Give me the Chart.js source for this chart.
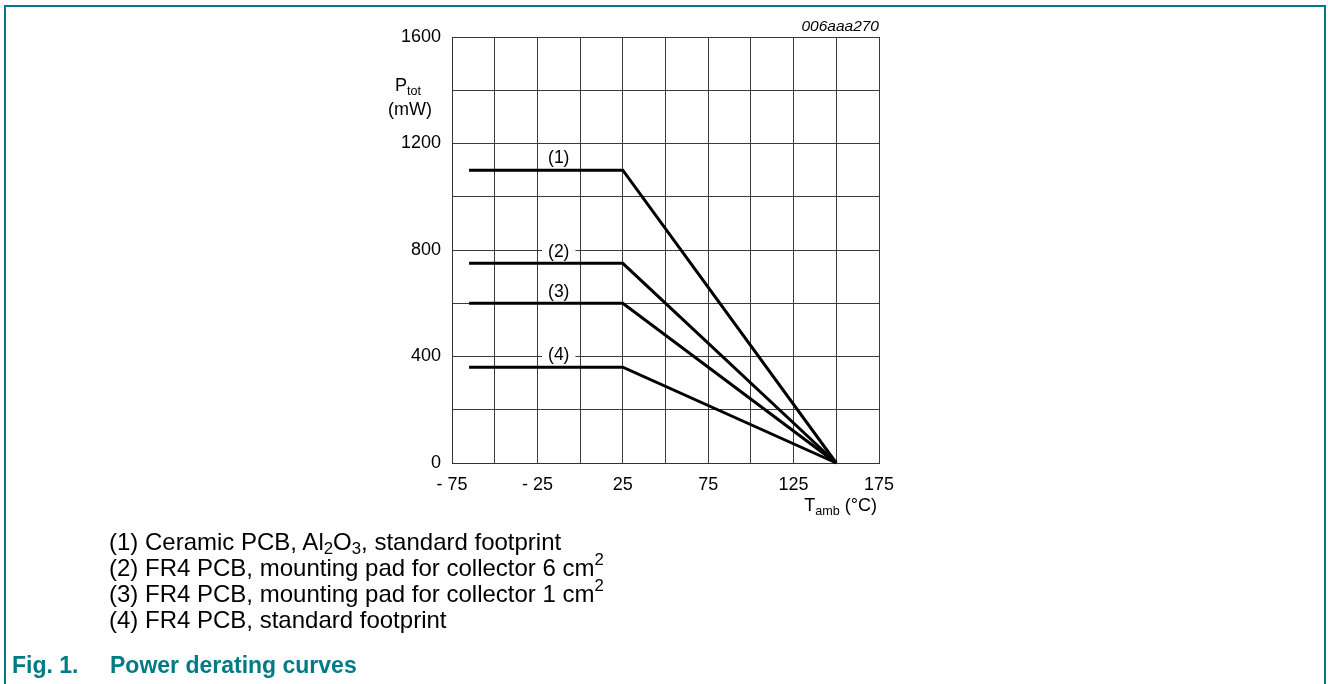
<!DOCTYPE html>
<html>
<head>
<meta charset="utf-8">
<script src="https://cdn.jsdelivr.net/npm/chart.js@4.4.1/dist/chart.umd.min.js"></script>
<style>
    html, body { margin: 0; padding: 0; background: #fff; }
    body { width: 1328px; height: 684px; position: relative; overflow: hidden; font-family: "Liberation Sans", Arial, sans-serif; color: #000; }
    #frame { position: absolute; left: 4px; top: 5px; width: 1318px; height: 700px; border: 2px solid #007a87; border-bottom: none; }
    #chart { position: absolute; left: 0; top: 0; }
    .txt { position: absolute; white-space: nowrap; line-height: 1; }
    .txt sub { font-size: 70%; vertical-align: -0.3em; line-height: 0; }
    #code { right: 449px; top: 18px; font-size: 15.5px; font-style: italic; }
    #ptot { left: 395px; top: 76px; font-size: 18px; }
    #mw { left: 388px; top: 100px; font-size: 18px; }
    #tamb { right: 451px; top: 496px; font-size: 18px; }
    #notes { position: absolute; left: 109px; top: 529px; font-size: 24px; line-height: 26px; white-space: nowrap; }
    #notes sub { font-size: 70%; vertical-align: -0.25em; line-height: 0; }
    #notes sup { font-size: 70%; vertical-align: 0.65em; line-height: 0; }
    #caption { position: absolute; left: 12px; top: 654px; font-size: 23px; line-height: 23px; font-weight: bold; color: #007a87; white-space: nowrap; }
    #caption span { position: absolute; left: 98px; top: 0; }
</style>
</head>
<body>
<div id="frame"></div>
<canvas id="chart" width="1328" height="684"></canvas>
<div class="txt" id="code">006aaa270</div>
<div class="txt" id="ptot">P<sub>tot</sub></div>
<div class="txt" id="mw">(mW)</div>
<div class="txt" id="tamb">T<sub>amb</sub> (°C)</div>
<div id="notes">
    (1) Ceramic PCB, Al<sub>2</sub>O<sub>3</sub>, standard footprint<br>
    (2) FR4 PCB, mounting pad for collector 6 cm<sup>2</sup><br>
    (3) FR4 PCB, mounting pad for collector 1 cm<sup>2</sup><br>
    (4) FR4 PCB, standard footprint
</div>
<div id="caption">Fig. 1.<span>Power derating curves</span></div>
<script>
// ambient temperature (°C) at the start of each curve, the knee and zero power
const tempPoints = [-65, 25, 150];

// Ptot (mW) for each curve at those temperatures
const curve1 = [1100, 1100, 0];
const curve2 = [750, 750, 0];
const curve3 = [600, 600, 0];
const curve4 = [360, 360, 0];

const curveNames = ['(1)', '(2)', '(3)', '(4)'];
const curveLabelTemp = -12.5;

const xTicks = [-75, -25, 25, 75, 125, 175];
const yTicks = [0, 400, 800, 1200, 1600];

const tickFont = { family: '"Liberation Sans", Arial, sans-serif', size: 18 };

function toPoints(values) {
    return values.map((v, i) => ({ x: tempPoints[i], y: v }));
}

function fmtTemp(v) {
    return v < 0 ? '- ' + Math.abs(v) : String(v);
}

const curves = [curve1, curve2, curve3, curve4];

// curve names sit just above each plateau, on a white patch over the grid
const curveLabelPlugin = {
    id: 'curveLabels',
    afterDatasetsDraw(chart) {
        const ctx = chart.ctx;
        const xs = chart.scales.x;
        const ys = chart.scales.y;
        ctx.save();
        ctx.font = '17.5px "Liberation Sans", Arial, sans-serif';
        ctx.textAlign = 'center';
        ctx.textBaseline = 'middle';
        curves.forEach((c, i) => {
            const px = xs.getPixelForValue(curveLabelTemp);
            const py = ys.getPixelForValue(c[0]) - 13;
            const w = ctx.measureText(curveNames[i]).width;
            ctx.fillStyle = '#fff';
            ctx.fillRect(px - w / 2 - 6, py - 8, w + 12, 16);
            ctx.fillStyle = '#000';
            ctx.fillText(curveNames[i], px, py + 1.5);
        });
        ctx.restore();
    }
};

new Chart(document.getElementById('chart'), {
    type: 'scatter',
    data: {
        datasets: curves.map((c, i) => ({
            label: curveNames[i],
            data: toPoints(c),
            showLine: true,
            borderColor: '#000',
            borderWidth: 3,
            pointRadius: 0,
            fill: false,
            clip: false
        }))
    },
    options: {
        responsive: false,
        animation: false,
        events: [],
        layout: { padding: { left: 0, right: 449, top: 37, bottom: 0 } },
        plugins: {
            legend: { display: false },
            tooltip: { enabled: false }
        },
        scales: {
            x: {
                type: 'linear',
                min: -75,
                max: 175,
                afterFit: (s) => { s.height = 221; },
                grid: { color: '#3a3a3a', lineWidth: 1, drawTicks: false },
                border: { color: '#333', width: 1 },
                ticks: {
                    stepSize: 25,
                    padding: 11,
                    color: '#000',
                    font: tickFont,
                    maxRotation: 0,
                    autoSkip: false,
                    callback: (v) => xTicks.includes(v) ? fmtTemp(v) : ''
                }
            },
            y: {
                type: 'linear',
                min: 0,
                max: 1600,
                afterFit: (s) => { s.width = 452; },
                grid: { color: '#3a3a3a', lineWidth: 1, drawTicks: false },
                border: { color: '#333', width: 1 },
                ticks: {
                    stepSize: 200,
                    padding: 11,
                    color: '#000',
                    font: tickFont,
                    autoSkip: false,
                    callback: (v) => yTicks.includes(v) ? String(v) : ''
                }
            }
        }
    },
    plugins: [curveLabelPlugin]
});
</script>
</body>
</html>
